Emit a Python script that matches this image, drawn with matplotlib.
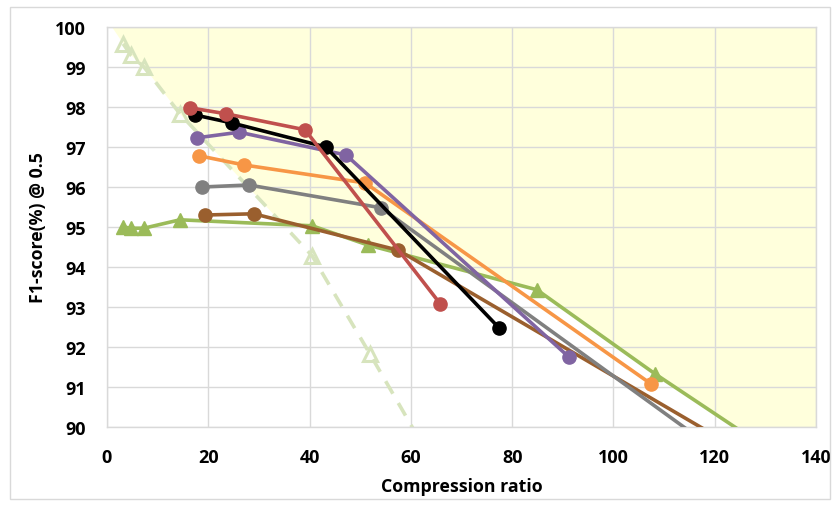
import numpy as np
import matplotlib
matplotlib.use("Agg")
import matplotlib.pyplot as plt
from matplotlib.patches import Rectangle

plt.rcParams['font.family'] = ['Open Sans', 'DejaVu Sans']

# Compression ratio / F1-score pairs for each method
red_x = [16.4, 23.5, 39.1, 65.8]
red_y = [97.98, 97.83, 97.43, 93.08]

black_x = [17.4, 24.7, 43.2, 77.4]
black_y = [97.8, 97.6, 97.0, 92.48]

purple_x = [17.8, 26.1, 47.2, 91.2]
purple_y = [97.23, 97.37, 96.8, 91.75]

orange_x = [18.2, 27.1, 51.0, 107.4]
orange_y = [96.78, 96.55, 96.1, 91.08]

gray_x = [18.8, 28.0, 54.1, 120.0]
gray_y = [96.0, 96.05, 95.48, 89.44]

brown_x = [19.4, 29.0, 57.5, 125.0]
brown_y = [95.3, 95.33, 94.42, 89.42]

green_x = [3.2, 4.7, 7.3, 14.4, 40.5, 51.5, 84.9, 108.2, 130.0]
green_y = [95.0, 94.97, 94.97, 95.18, 95.03, 94.55, 93.43, 91.33, 89.49]

base_x = [3.2, 4.7, 7.3, 14.4, 40.5, 51.9, 84.9]
base_y = [99.58, 99.3, 99.0, 97.83, 94.28, 91.83, 84.6]

x_ticks = [0, 20, 40, 60, 80, 100, 120, 140]
y_ticks = [90, 91, 92, 93, 94, 95, 96, 97, 98, 99, 100]

fig = plt.figure(figsize=(8.37, 5.06), dpi=100)
ax = fig.add_axes([107 / 837, 1 - 428 / 506, (816 - 107) / 837, (428 - 28) / 506])

x_lo, x_hi = 0, 140
y_lo, y_hi = 90, 100

# Shaded region above the upper envelope of the two frontier curves
bx = np.array(base_x, dtype=float)
by = np.array(base_y, dtype=float)
slope0 = (by[1] - by[0]) / (bx[1] - bx[0])
x_top = bx[0] + (y_hi - by[0]) / slope0
bx_ext = np.concatenate([[x_top], bx])
by_ext = np.concatenate([[y_hi], by])
xs = np.linspace(x_top, x_hi, 4000)
env_base = np.interp(xs, bx_ext, by_ext, right=-np.inf)
env_green = np.interp(xs, green_x, green_y, left=-np.inf)
env = np.maximum(env_base, env_green)
ax.fill_between(xs, env, y_hi, color='#FFFFDC', linewidth=0, zorder=0)

ax.plot(base_x, base_y, linestyle=(0, (4, 3)), color='#D7E4BD', linewidth=2.6,
        marker='^', markersize=10, markerfacecolor='none',
        markeredgecolor='#D7E4BD', markeredgewidth=2.2, zorder=2)

series = [
    (green_x, green_y, '#9BBB59', '^'),
    (brown_x, brown_y, '#9A5F2E', 'o'),
    (gray_x, gray_y, '#808080', 'o'),
    (orange_x, orange_y, '#F79646', 'o'),
    (purple_x, purple_y, '#8064A2', 'o'),
    (black_x, black_y, '#000000', 'o'),
    (red_x, red_y, '#C0504D', 'o'),
]
for sx, sy, col, mk in series:
    ax.plot(sx, sy, color=col, linewidth=2.6, marker=mk, markersize=9.5,
            markerfacecolor=col, markeredgecolor=col, zorder=3)

ax.set_xlim(x_lo, x_hi)
ax.set_ylim(y_lo, y_hi)
ax.set_xticks(x_ticks)
ax.set_yticks(y_ticks)
ax.grid(True, color='#D9D9D9', linewidth=1.0)
ax.set_axisbelow(True)
for sp in ax.spines.values():
    sp.set_color('#D9D9D9')
    sp.set_linewidth(1.0)
ax.tick_params(axis='x', length=0, labelsize=13, pad=15)
ax.tick_params(axis='y', length=0, labelsize=13, pad=15)
for lbl in ax.get_xticklabels() + ax.get_yticklabels():
    lbl.set_fontweight('bold')

ax.set_xlabel('Compression ratio', fontsize=12.8, fontweight='bold', labelpad=8)
ax.set_ylabel('F1-score(%) @ 0.5', fontsize=12.8, fontweight='bold', labelpad=6)

fig.patches.append(Rectangle((10 / 837, 1 - 500 / 506), 820 / 837, 492 / 506,
                             transform=fig.transFigure, fill=False,
                             edgecolor='#D9D9D9', linewidth=1.0))

fig.savefig('out.png', dpi=100)
